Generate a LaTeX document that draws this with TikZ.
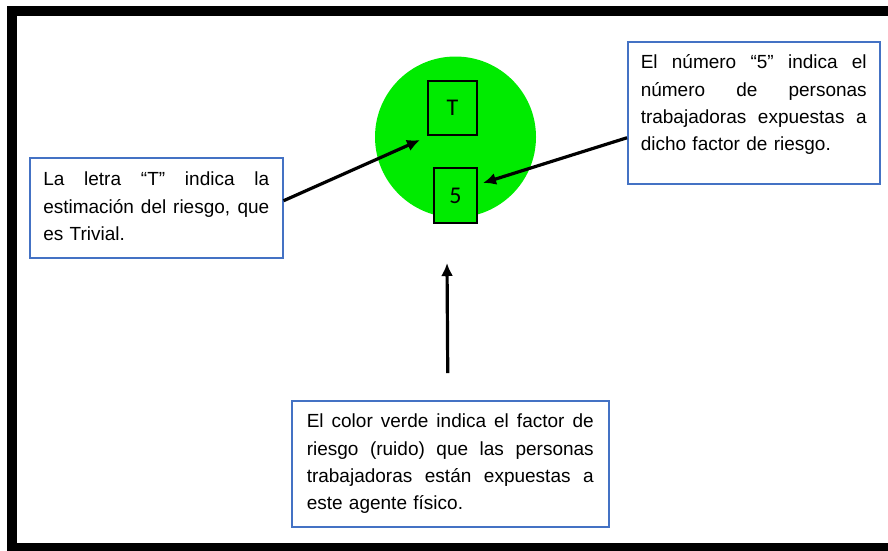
\documentclass[tikz,border=0pt]{standalone}
\usepackage{fontspec}
\setmainfont{Liberation Sans}
\newfontfamily\markfont{Carlito}
\usetikzlibrary{arrows.meta}
\definecolor{riskgreen}{RGB}{0,235,0}
\definecolor{boxblue}{RGB}{68,114,196}
\newcommand{\justline}[2][226pt]{\noindent\hbox to #1{\spaceskip=.278em plus 1fil\relax #2}\\}

\begin{document}
\begin{tikzpicture}[x=1pt,y=-1pt,
  infobox/.style={draw=boxblue,line width=1.5pt,fill=white,anchor=north west,inner ysep=0pt,
    font=\fontsize{19}{27.3}\selectfont},
  markbox/.style={draw,line width=1.5pt,fill=riskgreen,inner sep=0pt,font=\markfont\fontsize{24}{24}\selectfont},
  pointer/.style={line width=3.2pt,-{Latex[length=13pt,width=12pt]}}]
\useasboundingbox (0,0) rectangle (888,550);

%Frame
\draw[line width=10pt] (11.5,11) rectangle (900,548);

%Risk factor
\node[circle,fill=riskgreen,minimum size=161pt,inner sep=0pt] (risk) at (455.5,137){};
\node[markbox,minimum width=49pt,minimum height=54pt] (tmark) at (452.5,108){T};
\node[markbox,minimum width=43pt,minimum height=55pt] (nmark) at (455.5,195.5){5};

%Explanations
\node[infobox,text width=226pt,inner xsep=13.5pt,text height=28pt,text depth=72pt] (lbox) at (29,157){%
\justline{La letra “T” indica la}\justline{estimación del riesgo, que}es Trivial.};
\node[infobox,text width=226pt,inner xsep=13pt,text height=27pt,text depth=115pt] (rbox) at (627,41){%
\justline{El número “5” indica el}\justline{número de personas}\justline{trabajadoras expuestas a}dicho factor de riesgo.};
\node[infobox,text width=287pt,inner xsep=15pt,text height=27pt,text depth=99pt] (bbox) at (291,400){%
\justline[287pt]{El color verde indica el factor de}\justline[287pt]{riesgo (ruido) que las personas}\justline[287pt]{trabajadoras están expuestas a}este agente físico.};

%Arrows
\coordinate (ttip) at (420,140);
\coordinate (ntip) at (483,183);
\coordinate (ctip) at (447,263);
\draw[pointer] ([yshift=7pt]lbox.east) -- (ttip);
\draw[pointer] ([yshift=-25pt]rbox.west) -- (ntip);
\draw[pointer] ([xshift=-2.5pt,yshift=27pt]bbox.north) -- (ctip);

\end{tikzpicture}
\end{document}
